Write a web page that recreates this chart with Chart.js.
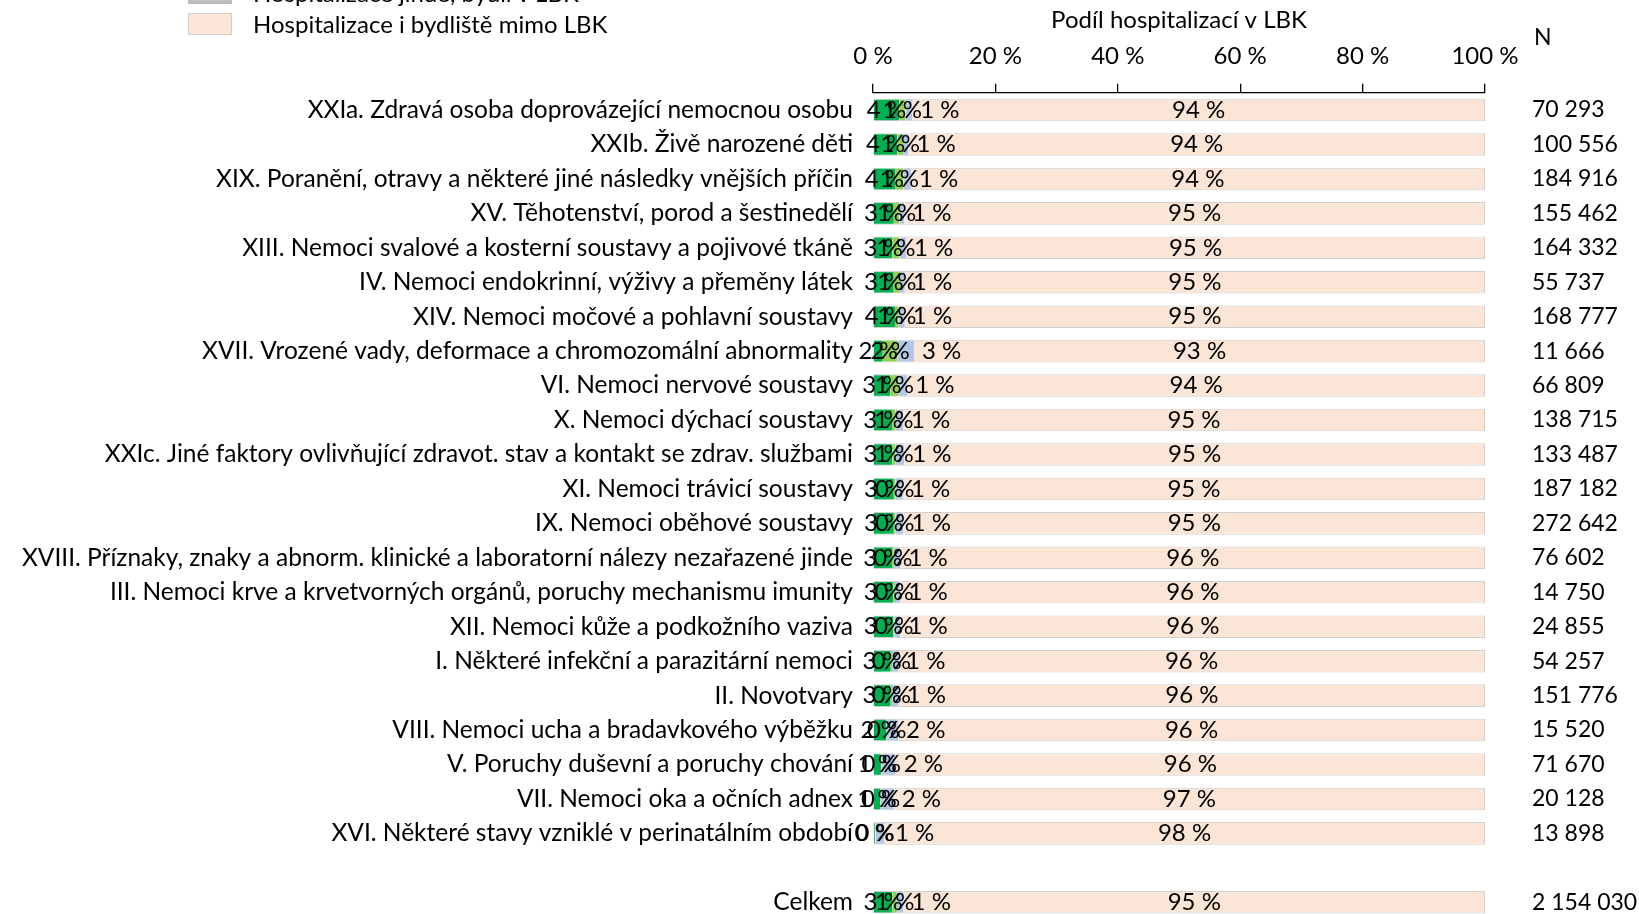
<!DOCTYPE html>
<html lang="cs">
<head>
<meta charset="utf-8">
<title>Podíl hospitalizací v LBK</title>
<script src="https://cdn.jsdelivr.net/npm/chart.js@4/dist/chart.umd.min.js"></script>
<style>
  html, body { margin: 0; padding: 0; background: #fff; overflow: hidden; }
  #wrap { position: relative; width: 1639px; height: 914px; overflow: hidden; }
  canvas { position: absolute; left: 0; top: 0; }
  .legend-item {
    position: absolute; left: 188px; height: 29px;
    display: flex; align-items: center; white-space: nowrap;
    font: 24px Lato, sans-serif; color: #000;
  }
  .legend-item .box { width: 44px; height: 22px; box-sizing: border-box; margin-right: 21px; border: 1px solid #d6d0cc; }
</style>
</head>
<body>
<div id="wrap">
  <canvas id="chart" width="1639" height="960"></canvas>
  <div class="legend-item" style="top:-22px"><span class="box" style="background:#bfbfbf;border-color:#b5b5b5"></span>Hospitalizace jinde, bydlí v LBK</div>
  <div class="legend-item" style="top:9px"><span class="box" style="background:#fbe5d6"></span>Hospitalizace i bydliště mimo LBK</div>
</div>
<script>
// skupiny diagnóz (MKN-10), prázdný řádek odděluje souhrn
const categories = [
  'XXIa. Zdravá osoba doprovázející nemocnou osobu',
  'XXIb. Živě narozené děti',
  'XIX. Poranění, otravy a některé jiné následky vnějších příčin',
  'XV. Těhotenství, porod a šestinedělí',
  'XIII. Nemoci svalové a kosterní soustavy a pojivové tkáně',
  'IV. Nemoci endokrinní, výživy a přeměny látek',
  'XIV. Nemoci močové a pohlavní soustavy',
  'XVII. Vrozené vady, deformace a chromozomální abnormality',
  'VI. Nemoci nervové soustavy',
  'X. Nemoci dýchací soustavy',
  'XXIc. Jiné faktory ovlivňující zdravot. stav a kontakt se zdrav. službami',
  'XI. Nemoci trávicí soustavy',
  'IX. Nemoci oběhové soustavy',
  'XVIII. Příznaky, znaky a abnorm. klinické a laboratorní nálezy nezařazené jinde',
  'III. Nemoci krve a krvetvorných orgánů, poruchy mechanismu imunity',
  'XII. Nemoci kůže a podkožního vaziva',
  'I. Některé infekční a parazitární nemoci',
  'II. Novotvary',
  'VIII. Nemoci ucha a bradavkového výběžku',
  'V. Poruchy duševní a poruchy chování',
  'VII. Nemoci oka a očních adnex',
  'XVI. Některé stavy vzniklé v perinatálním období',
  '',
  'Celkem'
];

// podíly v % (tmavě zelená, světle zelená, modrá, mimo LBK)
const sharesLbk   = [4.3, 4.0, 3.6, 3.4, 3.2, 3.4, 3.6, 1.6, 2.8, 3.1, 3.2, 3.4, 3.4, 3.1, 3.3, 3.3, 2.9, 2.9, 2.2, 1.3, 1.2, 0.3, null, 3.2];
const sharesLbk2  = [1.0, 0.9, 1.4, 0.9, 1.1, 1.0, 0.6, 2.4, 1.4, 0.6, 0.5, 0.3, 0.3, 0.3, 0.3, 0.2, 0.2, 0.2, 0.1, 0.1, 0.1, 0.1, null, 0.7];
const sharesJinde = [1.1, 0.9, 1.2, 0.8, 1.1, 0.8, 1.0, 2.7, 1.4, 1.2, 1.4, 1.2, 1.3, 1.1, 0.9, 1.0, 1.0, 1.1, 1.8, 2.3, 2.1, 1.4, null, 1.1];
const sharesMimo  = [93.6, 94.2, 93.8, 94.9, 94.6, 94.8, 94.8, 93.3, 94.4, 95.1, 94.9, 95.1, 95.0, 95.5, 95.5, 95.5, 95.9, 95.8, 95.9, 96.3, 96.6, 98.2, null, 95.0];

// počet hospitalizací
const counts = [70293, 100556, 184916, 155462, 164332, 55737, 168777, 11666, 66809, 138715, 133487, 187182, 272642, 76602, 14750, 24855, 54257, 151776, 15520, 71670, 20128, 13898, null, 2154030];

const xTicks = [0, 20, 40, 60, 80, 100];

const FONT = { family: 'Lato, sans-serif', size: 24 };
const CAT_FONT = { family: 'Lato, sans-serif', size: 24.5 };
const CSS_FONT = '24px Lato, sans-serif';
const N_FONT = '23px Lato, sans-serif';
const edge = '#cfcfcf';
const AREA_BOTTOM = 919.5;

const fmtCount = n => String(n).replace(/\B(?=(\d{3})+(?!\d))/g, ' ');
const fmtPct = v => Math.round(v) + ' %';

const barLabels = {
  id: 'barLabels',
  afterDatasetsDraw(chart) {
    const { ctx, chartArea } = chart;
    ctx.save();
    ctx.font = CSS_FONT;
    ctx.fillStyle = '#000';
    ctx.textBaseline = 'middle';
    chart.data.datasets.forEach((ds, i) => {
      chart.getDatasetMeta(i).data.forEach((bar, j) => {
        const v = ds.data[j];
        if (v == null) return;
        const l = Math.min(bar.x, bar.base), r = Math.max(bar.x, bar.base);
        if (i === 2) {
          ctx.textAlign = 'left';
          ctx.fillText(fmtPct(v), Math.max(r + 8, chartArea.left + 22), bar.y);
        } else {
          ctx.textAlign = 'center';
          ctx.fillText(fmtPct(v), (l + r) / 2, bar.y);
        }
      });
    });
    // sloupec N
    const yScale = chart.scales.y;
    ctx.font = N_FONT;
    ctx.textAlign = 'left';
    ctx.fillText('N', 1534, 38);
    counts.forEach((n, j) => {
      if (n == null) return;
      ctx.fillText(fmtCount(n), 1532, yScale.getPixelForValue(j));
    });
    ctx.restore();
  }
};

const seg = { top: 1, bottom: 1, left: 0, right: 0 };

const chart = new Chart(document.getElementById('chart'), {
  type: 'bar',
  data: {
    labels: categories,
    datasets: [
      { label: 'Hospitalizace v LBK, bydlí v LBK', data: sharesLbk, backgroundColor: '#00b050', borderColor: edge, borderWidth: seg, borderSkipped: false },
      { label: 'Hospitalizace v LBK, bydliště mimo LBK', data: sharesLbk2, backgroundColor: '#92d050', borderColor: edge, borderWidth: seg, borderSkipped: false },
      { label: 'Hospitalizace jinde', data: sharesJinde, backgroundColor: '#b4c7e7', borderColor: edge, borderWidth: seg, borderSkipped: false },
      { label: 'Hospitalizace i bydliště mimo LBK', data: sharesMimo, backgroundColor: '#fbe5d6', borderColor: edge, borderWidth: { top: 1, bottom: 1, left: 0, right: 1 }, borderSkipped: false }
    ]
  },
  options: {
    indexAxis: 'y',
    responsive: false,
    animation: false,
    devicePixelRatio: 1,
    categoryPercentage: 1,
    barPercentage: 0.655,
    layout: { padding: { top: 0, left: 0, right: 154, bottom: 40 } },
    plugins: { legend: { display: false }, tooltip: { enabled: false } },
    scales: {
      x: {
        position: 'top',
        stacked: true,
        min: 0,
        max: 100,
        afterBuildTicks(scale) { scale.ticks = xTicks.map(v => ({ value: v })); },
        ticks: { callback: v => v + ' %', font: FONT, color: '#000', padding: 13, maxRotation: 0 },
        grid: { drawOnChartArea: false, drawTicks: true, tickLength: 9, color: '#000', lineWidth: 1.3 },
        border: { display: true, color: '#000', width: 1.3 },
        title: { display: true, text: 'Podíl hospitalizací v LBK', font: FONT, color: '#000', padding: { top: 5.6, bottom: 0 } },
        afterFit(scale) { scale.height = 92.8; }
      },
      y: {
        stacked: true,
        grid: { display: false, drawTicks: false },
        border: { display: false },
        ticks: { autoSkip: false, font: CAT_FONT, color: '#000', padding: 20 },
        afterFit(scale) { scale.width = 873; }
      }
    }
  },
  plugins: [barLabels]
});

// dolní okraj plochy grafu dorovnat na požadovanou výšku řádků
chart.options.layout.padding.bottom += chart.chartArea.bottom - AREA_BOTTOM;
chart.update();
</script>
</body>
</html>
